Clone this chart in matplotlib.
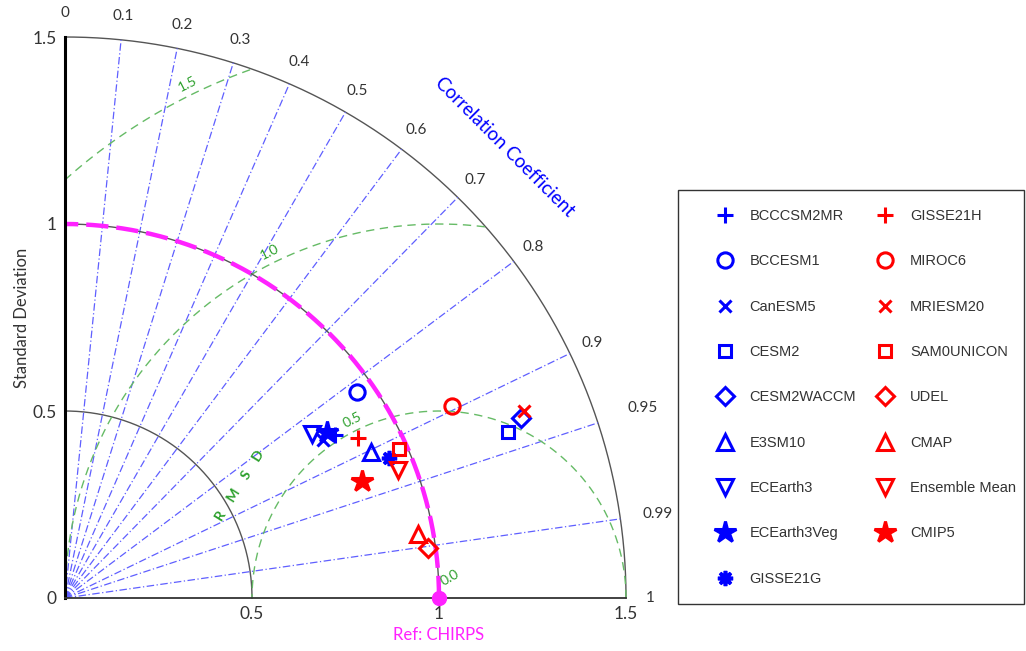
import numpy as np
import matplotlib
matplotlib.use('Agg')
import matplotlib.pyplot as plt
from matplotlib.patches import Rectangle

# model statistics (x = std*corr, y = std*sin)
names = ['BCCCSM2MR', 'BCCESM1', 'CanESM5', 'CESM2', 'CESM2WACCM', 'E3SM10',
         'ECEarth3', 'ECEarth3Veg', 'GISSE21G',
         'GISSE21H', 'MIROC6', 'MRIESM20', 'SAM0UNICON', 'UDEL', 'CMAP',
         'Ensemble Mean', 'CMIP5']
x_vals = [0.722, 0.782, 0.691, 1.185, 1.218, 0.817, 0.661, 0.700, 0.865,
          0.783, 1.036, 1.228, 0.894, 0.970, 0.943, 0.891, 0.793]
y_vals = [0.436, 0.550, 0.422, 0.445, 0.480, 0.391, 0.438, 0.445, 0.375,
          0.429, 0.513, 0.501, 0.398, 0.134, 0.171, 0.342, 0.314]
colors = ['blue'] * 9 + ['red'] * 8
markers = ['+', 'o', 'x', 's', 'D', '^', 'v', '*', (8, 2, 0),
           '+', 'o', 'x', 's', 'D', '^', 'v', '*']

corr_ticks = [0.1, 0.2, 0.3, 0.4, 0.5, 0.6, 0.7, 0.8, 0.9, 0.95, 0.99]
rmsd_levels = [0.5, 1.0, 1.5]
std_ticks = [0, 0.5, 1, 1.5]
ref_std = 1.0
max_std = 1.5

txt_font = 'Lato'
grey = '#555555'

fig = plt.figure(figsize=(10.26, 6.51), dpi=100)
ax = fig.add_axes([65 / 1026, 53 / 651, 561 / 1026, 561 / 651])
ax.set_xlim(0, max_std)
ax.set_ylim(0, max_std)
ax.set_aspect('equal')

t = np.linspace(0, np.pi / 2, 300)

# std arcs
for r in [0.5, max_std]:
    ax.plot(r * np.cos(t), r * np.sin(t), color=grey, lw=1, clip_on=False)

# correlation rays
for c in corr_ticks:
    a = np.arccos(c)
    ax.plot([0, max_std * np.cos(a)], [0, max_std * np.sin(a)],
            color='#5f5fff', lw=0.9, ls=(0, (6, 2, 1, 2)), clip_on=False)
for c in [0] + corr_ticks + [1]:
    a = np.arccos(c)
    lab = '%g' % c
    rr = {0.95: 1.625, 0.99: 1.6}.get(c, 1.565)
    ax.text(rr * np.cos(a), rr * np.sin(a), lab, ha='center', va='center',
            fontsize=11, color='#333333', family=txt_font)

# RMSD circles around the reference
tt = np.linspace(0, np.pi, 600)
for r in rmsd_levels:
    xs = ref_std + r * np.cos(tt)
    ys = r * np.sin(tt)
    m = (xs ** 2 + ys ** 2 <= max_std ** 2 + 1e-9) & (xs >= -1e-9)
    ax.plot(xs[m], ys[m], color='#66bb66', lw=1, ls=(0, (6, 4)), clip_on=False)
    ang = np.deg2rad(116)
    d = r + 0.03
    ax.text(ref_std + d * np.cos(ang), d * np.sin(ang), '%.1f' % r,
            color='#2ca02c', fontsize=10, rotation=27, ha='center', va='center',
            family=txt_font)
ax.text(1.03, 0.055, '0.0', color='#2ca02c', fontsize=10, rotation=30,
        ha='center', va='center', family=txt_font)
ax.text(0.468, 0.30, 'R    M    S    D', color='#2ca02c', fontsize=10,
        fontweight='bold', rotation=58, ha='center', va='center', family=txt_font)

# reference arc and point
ax.plot(ref_std * np.cos(t), ref_std * np.sin(t), color=grey, lw=1, clip_on=False)
ax.plot(ref_std * np.cos(t), ref_std * np.sin(t), color='#ff22ff', lw=3.2,
        ls=(0, (5, 1.8)), clip_on=False)
ax.plot([ref_std], [0], 'o', color='#ff22ff', ms=10, clip_on=False, zorder=6)

# models
size = {'+': 11, 'o': 11, 'x': 8, 's': 9, 'D': 9, '^': 12, 'v': 12, '*': 16}
for n, xv, yv, col, mk in zip(names, x_vals, y_vals, colors, markers):
    star = isinstance(mk, tuple)
    filled = mk in ('*', '+', 'x') or star
    ax.plot(xv, yv, linestyle='none', marker=mk,
            ms=11 if star else size[mk],
            mec=col, mfc=col if filled else 'none',
            mew=2.6 if star else 2.2, label=n, zorder=5, clip_on=False)

# axes
for s in ['top', 'right']:
    ax.spines[s].set_visible(False)
ax.spines['left'].set_linewidth(2.2)
ax.spines['left'].set_color('black')
ax.spines['bottom'].set_linewidth(1.3)
ax.spines['bottom'].set_color('#333333')
ax.set_xticks([0.5, 1, 1.5])
ax.set_xticklabels(['0.5', '1', '1.5'])
ax.set_yticks(std_ticks)
ax.set_yticklabels(['0', '0.5', '1', '1.5'])
ax.tick_params(length=0, labelsize=12.5, labelcolor='#333333', pad=6)
for lab in ax.get_xticklabels() + ax.get_yticklabels():
    lab.set_family(txt_font)
ax.set_ylabel('Standard Deviation', fontsize=12, family=txt_font, color='#333333',
              labelpad=2)
ax.text(1.0, -0.1, 'Ref: CHIRPS', color='#ff22ff', fontsize=12, ha='center',
        va='center', family=txt_font)
ax.text(1.175, 1.205, 'Correlation Coefficient', color='blue', fontsize=13.5,
        rotation=-45, ha='center', va='center', family=txt_font)

# legend, box drawn separately
leg = fig.legend(loc='upper left', bbox_to_anchor=(700 / 1026, 1 - 209 / 651),
                 ncol=2, prop={'family': 'Liberation Sans', 'size': 10.5},
                 labelspacing=2.15, borderpad=0, handlelength=3.4,
                 handletextpad=0.0, columnspacing=0.3, frameon=False,
                 borderaxespad=0, numpoints=1)
for txt in leg.get_texts():
    txt.set_color('#333333')
fig.patches.append(Rectangle((678 / 1026, 1 - 604 / 651), 346 / 1026, 414 / 651,
                             transform=fig.transFigure, fill=False,
                             edgecolor='#333333', lw=1))

fig.savefig('out.png', dpi=100)
